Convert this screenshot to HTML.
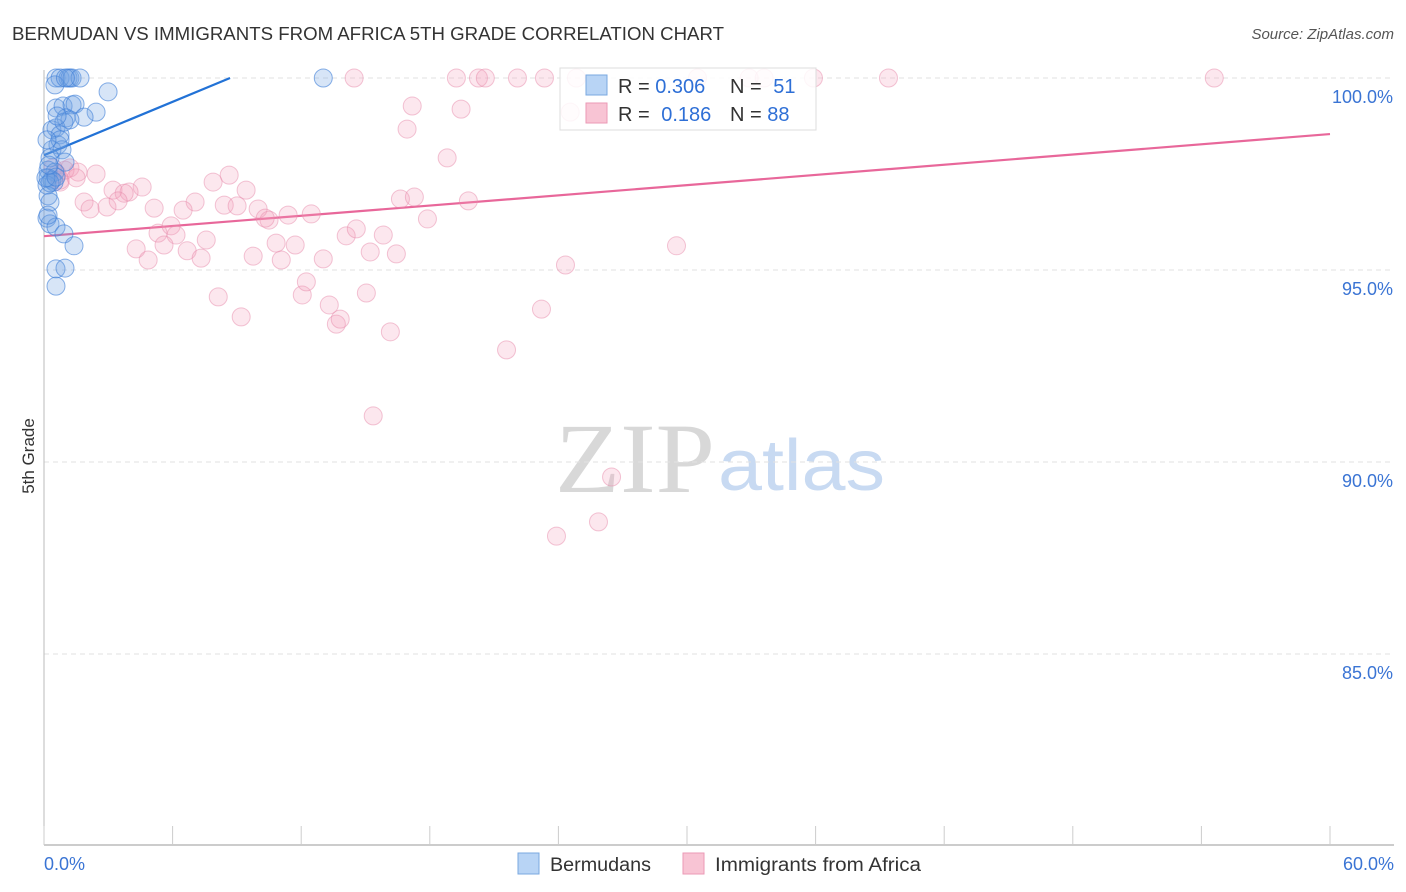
<!DOCTYPE html>
<html><head><meta charset="utf-8"><style>
body{margin:0;background:#fff;font-family:"Liberation Sans",sans-serif}
svg{display:block}
</style></head><body>
<svg id="chart" width="1406" height="892" xmlns="http://www.w3.org/2000/svg" font-family="Liberation Sans, sans-serif">
<text x="12" y="40" font-size="18" fill="#333" textLength="712" lengthAdjust="spacingAndGlyphs">BERMUDAN VS IMMIGRANTS FROM AFRICA 5TH GRADE CORRELATION CHART</text>
<text x="1394" y="39" font-size="15" fill="#555" font-style="italic" text-anchor="end">Source: ZipAtlas.com</text>
<text transform="translate(34,456) rotate(-90)" font-size="17" fill="#333" text-anchor="middle">5th Grade</text>
<g>
<text x="555" y="492" font-size="100" font-family="Liberation Serif, serif" fill="#d8d8d8" textLength="160" lengthAdjust="spacingAndGlyphs">ZIP</text>
<text x="718" y="490" font-size="72" fill="#c8daf2" textLength="167" lengthAdjust="spacingAndGlyphs">atlas</text>
</g>
<g id="grid"></g><g id="axes"></g><g id="trend"></g><g id="pts"></g>
<g>
<rect x="560" y="68" width="256" height="62" fill="#fff" fill-opacity="0.85" stroke="#ddd"/>
<rect x="586" y="75" width="21" height="20" fill="#b8d4f5" stroke="#7aa8e0"/>
<text x="618" y="93" font-size="20" fill="#333">R = <tspan fill="#2e6fd6">0.306</tspan></text>
<text x="730" y="93" font-size="20" fill="#333">N = <tspan fill="#2e6fd6" dx="6">51</tspan></text>
<rect x="586" y="103" width="21" height="20" fill="#f8c4d4" stroke="#eb9ab6"/>
<text x="618" y="121" font-size="20" fill="#333">R = <tspan fill="#2e6fd6" dx="6">0.186</tspan></text>
<text x="730" y="121" font-size="20" fill="#333">N = <tspan fill="#2e6fd6">88</tspan></text>
</g>
<g>
<rect x="518" y="853" width="21" height="21" fill="#b8d4f5" stroke="#7aa8e0"/>
<text x="550" y="871" font-size="19" fill="#333" textLength="101" lengthAdjust="spacingAndGlyphs">Bermudans</text>
<rect x="683" y="853" width="21" height="21" fill="#f8c4d4" stroke="#eb9ab6"/>
<text x="715" y="871" font-size="19" fill="#333" textLength="206" lengthAdjust="spacingAndGlyphs">Immigrants from Africa</text>
</g>
</svg>
<script>
const yTicks=[100,95,90,85];
const yTickLabels=["100.0%","95.0%","90.0%","85.0%"];
const xTicks=[0,6,12,18,24,30,36,42,48,54,60];
const xEndLabels=["0.0%","60.0%"];
const blueX=[0.56,0.75,1.12,1.21,1.31,1.68,0.51,2.99,13.03,0.56,0.89,1.31,1.45,2.43,1.87,1.03,1.21,0.37,0.56,0.75,0.65,0.37,0.84,0.28,0.98,0.19,0.51,0.19,0.37,0.47,0.14,0.19,0.28,0.14,0.28,0.56,0.93,1.4,0.56,0.98,0.56,0.19,0.75,0.14,0.93,0.61,0.28,0.09,0.56,0.23,1.0];
const blueY=[100,100,100,100,100,100,99.82,99.64,100,99.22,99.27,99.3,99.32,99.11,98.98,98.96,98.91,98.65,98.7,98.52,98.26,98.13,98.13,97.92,97.81,97.6,97.55,97.4,97.34,97.29,97.21,96.93,96.77,96.35,96.2,96.12,95.94,95.63,95.03,95.05,94.58,96.43,98.39,98.39,98.85,99.01,97.27,97.4,97.42,97.73,100];
const pinkX=[14.47,19.24,20.27,20.59,22.09,23.35,24.84,30.49,32.9,33.6,35.9,39.4,54.6,24.55,17.18,19.46,16.94,18.81,1.21,1.59,2.43,0.75,0.42,8.64,7.89,4.58,3.22,3.97,3.74,9.43,1.87,2.15,2.94,3.46,7.05,5.14,6.49,8.41,9.01,9.99,10.5,10.32,11.39,12.47,16.63,17.28,19.8,17.89,4.3,4.86,5.32,5.93,6.16,5.6,6.68,7.33,7.57,9.76,10.83,11.07,11.72,13.03,14.1,14.57,15.83,15.22,16.44,8.13,9.2,12.05,12.24,13.31,13.64,13.82,15.04,16.16,23.21,24.33,29.51,21.58,15.36,26.48,25.87,23.91,0.75,0.98,1.5,0.6];
const pinkY=[100,100,100,100,100,100,100,100,100,100,100,100,100,99.11,99.27,99.19,98.67,97.92,97.66,97.55,97.5,97.29,97.66,97.47,97.29,97.16,97.08,97.03,97.0,97.08,96.77,96.59,96.64,96.8,96.77,96.61,96.56,96.69,96.67,96.59,96.3,96.35,96.43,96.46,96.85,96.9,96.8,96.33,95.55,95.26,95.96,96.15,95.91,95.65,95.5,95.31,95.78,95.36,95.7,95.26,95.65,95.29,95.89,96.07,95.91,95.47,95.42,94.3,93.78,94.35,94.69,94.09,93.59,93.72,94.4,93.39,93.98,95.13,95.63,92.92,91.2,89.61,88.44,88.07,97.34,97.6,97.4,97.5];
const blueTrendX=[0,8.68],blueTrendY=[97.99,100];
const pinkTrendX=[0,60],pinkTrendY=[95.88,98.54];
const NS="http://www.w3.org/2000/svg";
const sx=v=>44+v*(1286/60), sy=v=>78+(100-v)*38.4;
function mk(t,a,p){const e=document.createElementNS(NS,t);for(const k in a)e.setAttribute(k,a[k]);p.appendChild(e);return e;}
const grid=document.getElementById('grid'),axes=document.getElementById('axes');
yTicks.forEach((v,i)=>{
 const l=mk('line',{x1:44,x2:1394,y1:sy(v),y2:sy(v),stroke:'#e2e2e2','stroke-dasharray':'5,4'},grid);
 
 
 const t=mk('text',{x:1393,y:sy(v)+25,'font-size':18,fill:'#3a74d4','text-anchor':'end'},axes);
 t.textContent=yTickLabels[i];
 
 
});
const ya=mk('line',{x1:44,x2:44,y1:70,y2:845,stroke:'#bbb'},axes);


const xa=mk('line',{x1:44,x2:1394,y1:845,y2:845,stroke:'#bbb','stroke-width':1.5},axes);


xTicks.forEach(v=>{
 const l=mk('line',{x1:sx(v),x2:sx(v),y1:826,y2:845,stroke:'#ccc'},axes);
 
 
});
[[0,'start',44],[60,'end',1394]].forEach((d,i)=>{
 const t=mk('text',{x:d[2],y:870,'font-size':18,fill:'#3a74d4','text-anchor':d[1]},axes);
 t.textContent=xEndLabels[i];
 
 
});
const pts=document.getElementById('pts');
pinkX.forEach((x,i)=>{
 const c=mk('circle',{cx:sx(x),cy:sy(pinkY[i]),r:9,fill:'rgba(244,160,188,0.25)',stroke:'rgba(232,140,172,0.5)','stroke-width':1},pts);
 
 
});
blueX.forEach((x,i)=>{
 const c=mk('circle',{cx:sx(x),cy:sy(blueY[i]),r:9,fill:'rgba(110,160,228,0.28)',stroke:'rgba(60,125,215,0.6)','stroke-width':1},pts);
 
 
});
const tr=document.getElementById('trend');
const bt=mk('line',{x1:sx(blueTrendX[0]),y1:sy(blueTrendY[0]),x2:sx(blueTrendX[1]),y2:sy(blueTrendY[1]),stroke:'#2272d6','stroke-width':2.2},tr);


const pt=mk('line',{x1:sx(pinkTrendX[0]),y1:sy(pinkTrendY[0]),x2:sx(pinkTrendX[1]),y2:sy(pinkTrendY[1]),stroke:'#e8679a','stroke-width':2.2},tr);


</script>
</body></html>
